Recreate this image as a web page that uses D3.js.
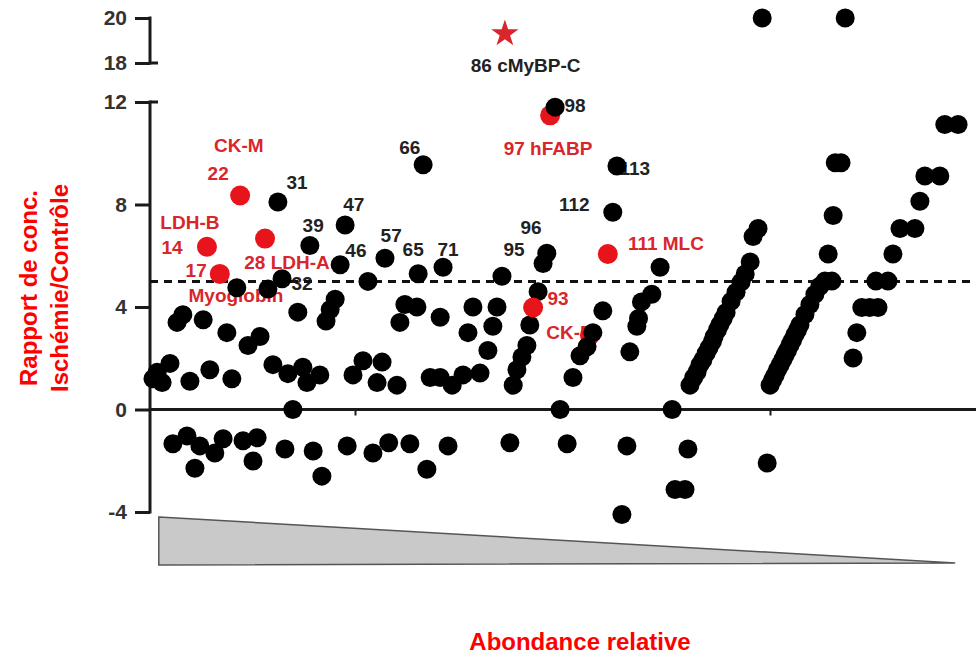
<!DOCTYPE html>
<html>
<head>
<meta charset="utf-8">
<script src="https://d3js.org/d3.v7.min.js"></script>
<style>
  body { margin: 0; background: #fff; }
  svg { display: block; }
</style>
</head>
<body>
<svg id="chart"></svg>
<script>
// protein rank (x, abundance order) and conc. ratio ischemia/control (y)
const blackPoints = [
  [1.2,1.2],[2.2,1.45],[3.4,1.05],[5.3,1.8],[7.0,3.4],[8.4,3.7],[10.1,1.1],[13.3,3.5],
  [14.9,1.55],[19.0,3.0],[20.2,1.2],[21.4,4.75],[24.1,2.5],[27.0,2.85],[28.9,4.7],
  [30.1,1.75],[31.3,8.1],[32.3,5.1],[33.7,1.4],[34.9,0],[36.1,3.8],[37.3,1.65],[38.3,1.05],
  [39.0,6.4],[41.4,1.35],[42.9,3.45],[43.9,3.9],[45.1,4.3],[46.3,5.65],[47.5,7.2],
  [49.4,1.35],[51.8,1.9],[53.0,5.0],[55.2,1.05],[56.4,1.85],[57.1,5.9],[60.0,0.95],
  [60.7,3.4],[61.9,4.1],[64.8,4.0],[65.1,5.3],[66.3,9.55],[68.0,1.25],[70.4,1.25],
  [70.4,3.6],[71.1,5.55],[73.3,0.95],[75.9,1.35],[77.1,3.0],[78.3,4.0],[80.0,1.42],
  [81.9,2.3],[83.1,3.25],[84.1,4.0],[85.3,5.2],[88.0,0.95],[88.9,1.55],[90.1,2.05],
  [91.3,2.5],[92.0,3.3],[94.0,4.6],[95.2,5.7],[96.1,6.1],[98.1,11.8],[99.3,0],
  [102.4,1.25],[104.1,2.1],[105.8,2.45],[107.2,3.0],[109.6,3.85],[112.0,7.7],[113.0,9.5],
  [116.1,2.25],[117.8,3.25],[118.2,3.55],[118.9,4.2],[121.4,4.5],[123.4,5.55],[126.3,0],
  // right-hand ranks
  [130.6,0.95],[131.5,1.25],[132.3,1.46],[133.0,1.75],[133.7,1.93],[134.5,2.2],[135.2,2.41],
  [136.0,2.65],[136.4,2.84],[137.2,3.1],[137.8,3.31],[138.6,3.55],[139.3,3.79],[140.5,4.22],
  [141.7,4.58],[142.9,4.97],[143.9,5.29],[145.1,5.76],[145.8,6.75],[147.0,7.06],
  [149.9,0.95],[150.5,1.15],[151.1,1.34],[151.7,1.55],[152.3,1.74],[153.0,1.95],[153.5,2.13],
  [154.1,2.3],[154.7,2.52],[155.3,2.7],[155.9,2.92],[156.5,3.1],[157.1,3.31],[158.3,3.71],
  [159.5,4.1],[160.7,4.5],[161.9,4.81],[163.1,5.01],[164.8,5.01],[163.9,6.07],[165.1,7.57],
  [165.6,9.63],[167.0,9.63],
  [169.9,2.01],[170.8,3.0],[172.0,3.98],[173.9,3.98],[175.9,3.98],[175.4,5.01],[178.3,5.01],
  [179.5,6.07],[181.2,7.06],[184.8,7.06],[186.0,8.13],[187.2,9.11],[190.8,9.11],
  [192.0,11.12],[195.2,11.12],
  // above the axis break
  [148,20],[168,20],
  // below zero
  [6.0,-1.34],[9.4,-1.03],[11.3,-2.29],[12.5,-1.42],[16.1,-1.7],[18.1,-1.14],[22.9,-1.22],
  [25.3,-2.01],[26.3,-1.1],[33.0,-1.54],[39.8,-1.62],[41.9,-2.6],[48.0,-1.42],[54.2,-1.7],
  [58.0,-1.3],[63.1,-1.34],[67.2,-2.33],[72.3,-1.42],[87.2,-1.3],[101.0,-1.34],[115.4,-1.42],
  [114.2,-4.1],[127.0,-3.12],[129.4,-3.12],[130.1,-1.54],[149.2,-2.09]
];

// highlighted proteins (red); some sit behind the black dots
const redBehind = [[96.9,11.48],[106.5,2.9]];
const redFront = [[22.2,8.35],[14.2,6.35],[28.2,6.67],[17.3,5.29],[92.8,3.98],[110.8,6.07]];
const starPoint = [86, 19.3];

const yTicks = [-4, 0, 4, 8, 12, 18, 20];
const threshold = 5;

// labels: text, rank, value, red?
const labels = [
  ["CK-M", 21.9, 10.06, true], ["22", 16.9, 8.95, true], ["31", 35.9, 8.6, false],
  ["LDH-B", 10.1, 7.06, true], ["14", 5.8, 6.07, true], ["39", 39.8, 6.94, false],
  ["47", 49.6, 7.73, false], ["46", 50.1, 5.96, false], ["17", 11.6, 5.17, true],
  ["28 LDH-A", 33.5, 5.48, true], ["32", 37.1, 4.65, false], ["Myoglobin", 21.2, 4.18, true],
  ["66", 63.1, 9.98, false], ["57", 58.6, 6.55, false], ["65", 63.9, 6.0, false],
  ["71", 72.3, 6.0, false], ["95", 88.2, 6.0, false], ["96", 92.3, 6.86, false],
  ["112", 102.7, 7.73, false], ["93", 98.8, 4.06, true], ["CK-B", 101.7, 2.76, true],
  ["97 hFABP", 96.4, 9.94, true], ["86 cMyBP-C", 91.0, 16.6, false], ["98", 102.9, 11.6, false],
  ["113", 117.3, 9.15, false], ["111 MLC", 124.8, 6.23, true]
];

const width = 976, height = 655;
const axisX = 150;
const svg = d3.select("#chart").attr("width", width).attr("height", height);

const x = d3.scaleLinear().domain([0, 200]).range([148, 978]);
const y = d3.scaleLinear().domain([-4, 12, 18, 20]).range([512, 102, 63, 18]);

const RED = "#e8141b", LABEL_RED = "#d8262b", INK = "#1a1a1a";
const font = "'Liberation Sans', Arial, sans-serif";

// abundance triangle
const tri = [[x(2.6), y(-4) + 5], [x(194.5), 563], [x(2.6), 565]];
svg.append("path")
  .attr("d", "M" + tri.join("L") + "Z")
  .attr("fill", "#c9c9c9").attr("stroke", "#555").attr("stroke-width", 1.5);

// annotation labels (under the dots)
svg.append("g").selectAll("text").data(labels).join("text")
  .attr("x", d => x(d[1])).attr("y", d => y(d[2]))
  .attr("text-anchor", "middle")
  .attr("font-family", font).attr("font-weight", "bold").attr("font-size", 19)
  .attr("fill", d => d[3] ? LABEL_RED : "#222")
  .text(d => d[0]);

// y axis
const yAxis = svg.append("g")
  .attr("transform", `translate(${axisX},0)`)
  .call(d3.axisLeft(y).tickValues(yTicks).tickSize(15).tickPadding(8).tickFormat(d => String(d)));
yAxis.select(".domain").remove();
yAxis.selectAll(".tick line").attr("stroke", INK).attr("stroke-width", 3);
yAxis.selectAll(".tick text")
  .attr("font-family", font).attr("font-weight", "bold").attr("font-size", 21).attr("fill", "#333");

const seg = (x1, y1, x2, y2, w) => svg.append("line")
  .attr("x1", x1).attr("y1", y1).attr("x2", x2).attr("y2", y2)
  .attr("stroke", INK).attr("stroke-width", w || 3);
seg(axisX, y(20) - 1.5, axisX, y(18) + 1.5);
seg(axisX, y(12) - 1.5, axisX, y(-4) + 1.5);
seg(axisX, y(18), axisX + 8, y(18));
seg(axisX, y(12), axisX + 8, y(12));

// zero line with small ticks
seg(axisX, y(0), width, y(0));
[50, 100, 150, 200].forEach(r => seg(x(r), y(0), x(r), y(0) + 6, 2));

// threshold (ratio = 5)
svg.append("line")
  .attr("x1", axisX).attr("x2", width)
  .attr("y1", y(threshold)).attr("y2", y(threshold))
  .attr("stroke", "#111").attr("stroke-width", 3).attr("stroke-dasharray", "8,6");

// dots
const dot = (data, fill, r) => svg.append("g").selectAll("circle").data(data).join("circle")
  .attr("cx", d => x(d[0])).attr("cy", d => y(d[1])).attr("r", r).attr("fill", fill);
dot(redBehind, RED, 10);
dot(blackPoints, "#000", 9.5);
dot(redFront, RED, 10);

svg.append("path")
  .attr("d", d3.symbol(d3.symbolStar, 230)())
  .attr("transform", `translate(${x(starPoint[0])},${y(starPoint[1])})`)
  .attr("fill", "#d9262b");

// axis titles
const yTitle = svg.append("text")
  .attr("transform", "translate(37,288) rotate(-90)")
  .attr("text-anchor", "middle")
  .attr("font-family", font).attr("font-weight", "bold").attr("font-size", 24).attr("fill", "#ff0000");
yTitle.append("tspan").attr("x", 0).attr("dy", 0).text("Rapport de conc.");
yTitle.append("tspan").attr("x", 0).attr("dy", 31).text("Ischémie/Contrôle");

svg.append("text")
  .attr("x", 580).attr("y", 650)
  .attr("text-anchor", "middle")
  .attr("font-family", font).attr("font-weight", "bold").attr("font-size", 24).attr("fill", "#ff0000")
  .text("Abondance relative");
</script>
</body>
</html>
